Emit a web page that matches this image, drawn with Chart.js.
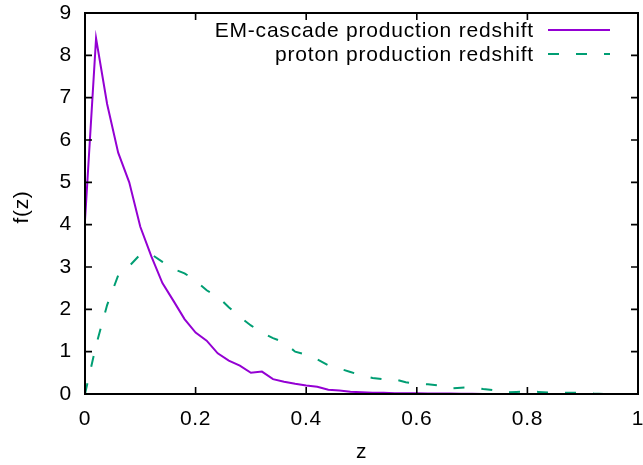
<!DOCTYPE html>
<html>
<head>
<meta charset="utf-8">
<script src="https://cdn.jsdelivr.net/npm/chart.js@4"></script>
<style>
  html, body { margin: 0; padding: 0; background: #fff; }
  #wrap { width: 643px; height: 465px; }
</style>
</head>
<body>
<div id="wrap"><canvas id="chart" width="643" height="465"></canvas></div>
<script>
// redshift grid and the two distributions
const zVals = [0, 0.02, 0.04, 0.06, 0.08, 0.10, 0.12, 0.14, 0.16, 0.18,
  0.20, 0.22, 0.24, 0.26, 0.28, 0.30, 0.32, 0.34, 0.36, 0.38,
  0.40, 0.42, 0.44, 0.46, 0.48, 0.50, 0.52, 0.54, 0.56, 0.58,
  0.60, 0.62, 0.64, 0.66, 0.68, 0.70, 0.72, 0.74, 0.76, 0.78,
  0.80, 0.82, 0.84, 0.86, 0.88, 0.90, 0.92, 0.94, 0.96, 0.98, 1.00];

const emCascade = [4.1, 8.4, 6.85, 5.7, 5.0, 3.95, 3.25, 2.62, 2.2, 1.77,
  1.45, 1.26, 0.96, 0.79, 0.67, 0.5, 0.53, 0.35, 0.29, 0.24,
  0.2, 0.17, 0.1, 0.08, 0.055, 0.04, 0.03, 0.03, 0.02, 0.02,
  0.02, 0.01, 0.01, 0.01, 0.005, 0.005, 0, 0, 0, 0,
  0, 0, 0, 0, 0, 0, 0, 0, 0, 0, 0];

const proton = [0, 1.15, 2.1, 2.8, 3.02, 3.3, 3.3, 3.12, 2.95, 2.85,
  2.68, 2.45, 2.3, 2.05, 1.82, 1.62, 1.45, 1.32, 1.22, 1.0,
  0.93, 0.82, 0.68, 0.6, 0.52, 0.44, 0.38, 0.35, 0.35, 0.28,
  0.24, 0.23, 0.2, 0.13, 0.15, 0.16, 0.12, 0.09, 0.04, 0.05,
  0.055, 0.05, 0.03, 0.03, 0.03, 0.03, 0.01, 0, 0, 0, 0];

const xTicks = [0, 0.2, 0.4, 0.6, 0.8, 1];
const yTicks = [0, 1, 2, 3, 4, 5, 6, 7, 8, 9];

const FONT = "'Liberation Sans', Arial, sans-serif";
const FONT_SIZE = 21;
const PURPLE = "#9400d3";
const GREEN = "#009e73";
const GREEN_DASH = [11, 17];

const toPoints = (ys) => zVals.map((z, i) => ({ x: z, y: ys[i] }));

// gnuplot-ish frame: border box, inward ticks on all sides, axis titles, key
const framePlugin = {
  id: "frame",
  beforeDraw(chart) {
    // the reference text is set a little looser than plain Arial
    chart.ctx.letterSpacing = "0.7px";
  },
  afterDraw(chart) {
    const { ctx, chartArea: a, scales } = chart;
    const xs = scales.x, ys = scales.y;
    const tl = 7;
    ctx.save();
    ctx.strokeStyle = "#000";
    ctx.lineWidth = 1.6;
    ctx.beginPath();
    xTicks.forEach((v) => {
      const px = xs.getPixelForValue(v);
      if (v === 0 || v === 1) return;
      ctx.moveTo(px, a.bottom); ctx.lineTo(px, a.bottom - tl);
      ctx.moveTo(px, a.top); ctx.lineTo(px, a.top + tl);
    });
    yTicks.forEach((v) => {
      const py = ys.getPixelForValue(v);
      if (v === 0 || v === 9) return;
      ctx.moveTo(a.left, py); ctx.lineTo(a.left + tl, py);
      ctx.moveTo(a.right, py); ctx.lineTo(a.right - tl, py);
    });
    ctx.stroke();
    ctx.lineWidth = 2;
    ctx.strokeRect(a.left, a.top, a.right - a.left, a.bottom - a.top);

    // axis titles
    ctx.fillStyle = "#000";
    ctx.font = FONT_SIZE + "px " + FONT;
    ctx.letterSpacing = "0.7px";
    ctx.textAlign = "center";
    ctx.textBaseline = "middle";
    ctx.fillText("z", (a.left + a.right) / 2, 452);
    ctx.translate(22, 207);
    ctx.rotate(-Math.PI / 2);
    ctx.fillText("f(z)", 0, 0);
    ctx.restore();

    // key, top right
    ctx.save();
    ctx.font = FONT_SIZE + "px " + FONT;
    ctx.letterSpacing = "0.8px";
    ctx.textAlign = "right";
    ctx.textBaseline = "middle";
    ctx.fillStyle = "#000";
    chart.data.datasets.forEach((ds, i) => {
      const y = 30 + i * 24;
      ctx.fillText(ds.label, 534, y + 1);
      ctx.strokeStyle = ds.borderColor;
      ctx.lineWidth = 2;
      ctx.setLineDash(ds.borderDash || []);
      ctx.beginPath();
      ctx.moveTo(548, y);
      ctx.lineTo(610, y);
      ctx.stroke();
    });
    ctx.restore();
  },
};

new Chart(document.getElementById("chart"), {
  type: "line",
  data: {
    datasets: [
      {
        label: "EM-cascade production redshift",
        data: toPoints(emCascade),
        borderColor: PURPLE,
        borderWidth: 2,
        pointRadius: 0,
        tension: 0,
      },
      {
        label: "proton production redshift",
        data: toPoints(proton),
        borderColor: GREEN,
        borderWidth: 2,
        borderDash: GREEN_DASH,
        pointRadius: 0,
        tension: 0,
      },
    ],
  },
  options: {
    responsive: false,
    animation: false,
    layout: { padding: { top: 13, right: 5, left: 0, bottom: 0 } },
    plugins: { legend: { display: false }, tooltip: { enabled: false } },
    scales: {
      x: {
        type: "linear",
        min: 0,
        max: 1,
        afterBuildTicks: (s) => { s.ticks = xTicks.map((v) => ({ value: v })); },
        afterFit: (s) => {
          s.height = 71;
          s.paddingLeft = 0;
          s.paddingRight = 0;
        },
        grid: { display: false, drawTicks: false },
        border: { display: false },
        ticks: {
          color: "#000",
          font: { family: FONT, size: FONT_SIZE },
          padding: 13,
          maxRotation: 0,
          callback: (v) => String(v),
        },
      },
      y: {
        min: 0,
        max: 9,
        afterBuildTicks: (s) => { s.ticks = yTicks.map((v) => ({ value: v })); },
        afterFit: (s) => {
          s.width = 85;
          s.paddingTop = 0;
          s.paddingBottom = 0;
        },
        grid: { display: false, drawTicks: false },
        border: { display: false },
        ticks: {
          color: "#000",
          font: { family: FONT, size: FONT_SIZE },
          padding: 13,
          callback: (v) => String(v),
        },
      },
    },
  },
  plugins: [framePlugin],
});
</script>
</body>
</html>
